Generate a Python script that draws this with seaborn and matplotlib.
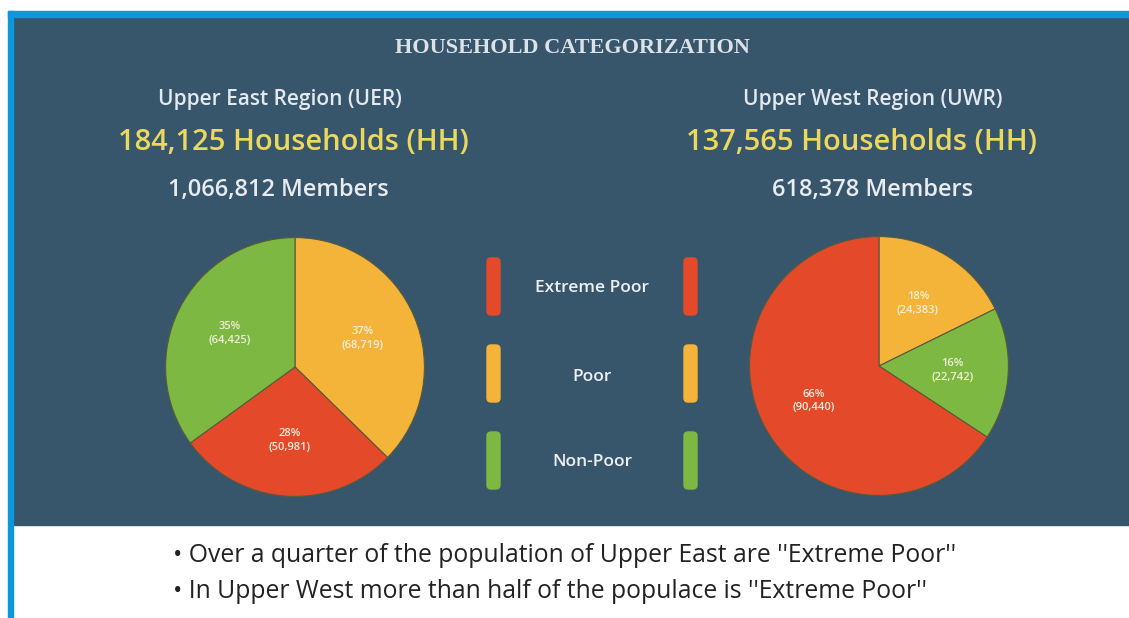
import matplotlib.pyplot as plt
import seaborn as sns
import numpy as np
from matplotlib.patches import Rectangle, FancyBboxPatch

# data
categories = ["Extreme Poor", "Poor", "Non-Poor"]
uer_households = [50981, 68719, 64425]
uer_pct = [28, 37, 35]
uwr_households = [90440, 24383, 22742]
uwr_pct = [66, 18, 16]
uer_order = ["Poor", "Extreme Poor", "Non-Poor"]
uwr_order = ["Poor", "Non-Poor", "Extreme Poor"]
bullets = ['Over a quarter of the population of Upper East are \'\'Extreme Poor\'\'',
           'In Upper West more than half of the populace is \'\'Extreme Poor\'\'']

colors = {"Extreme Poor": "#E44A2A", "Poor": "#F4B43A", "Non-Poor": "#7DB843"}
PANEL = "#37566B"
BLUE = "#0B97DC"
W, H = 1129, 618

sns.set_style("white")
plt.rcParams['font.family'] = ['Open Sans', 'DejaVu Sans']

fig = plt.figure(figsize=(W / 100, H / 100), dpi=100)
bg = fig.add_axes([0, 0, 1, 1])
bg.set_xlim(0, W)
bg.set_ylim(H, 0)
bg.axis("off")

# frame and panel
bg.add_patch(Rectangle((13, 17), W - 13, 508, color=PANEL, zorder=0))
bg.add_patch(Rectangle((8, 11), W - 8, 6, color=BLUE, zorder=1))
bg.add_patch(Rectangle((8, 11), 5, H - 11, color=BLUE, zorder=1))

bg.text(572, 48, "HOUSEHOLD CATEGORIZATION", ha="center", va="center",
        color="#DCE2E8", fontsize=16, family="Liberation Serif", fontweight="bold")

heads = [
    (280, 293, 278, "Upper East Region (UER)", "184,125 Households (HH)", "1,066,812 Members"),
    (873, 861, 873, "Upper West Region (UWR)", "137,565 Households (HH)", "618,378 Members"),
]
for x1, x2, x3, region, hh, members in heads:
    bg.text(x1, 100, region, ha="center", va="center", color="#E4E9EE",
            fontsize=15, fontweight="semibold")
    bg.text(x2, 143, hh, ha="center", va="center", color="#EBD85E",
            fontsize=21, fontweight="semibold")
    bg.text(x3, 190, members, ha="center", va="center", color="#E8ECF0",
            fontsize=17, fontweight="semibold")


def draw_pie(cx, cy, r, values, pcts, order):
    ax = fig.add_axes([(cx - r) / W, 1 - (cy + r) / H, 2 * r / W, 2 * r / H])
    lookup = dict(zip(categories, zip(values, pcts)))
    vals = [lookup[c][0] for c in order]
    labels = [f"{lookup[c][1]}%\n({lookup[c][0]:,})" for c in order]
    wedges, _ = ax.pie(vals, colors=[colors[c] for c in order], startangle=90,
                       counterclock=False, radius=1,
                       wedgeprops=dict(edgecolor="#5a5a3a", linewidth=0.8))
    for w, lab in zip(wedges, labels):
        ang = np.deg2rad((w.theta1 + w.theta2) / 2)
        d = 0.57
        ax.text(d * np.cos(ang), d * np.sin(ang), lab, ha="center", va="center",
                color="#F3EEDC", fontsize=8, fontweight="semibold", linespacing=1.3)
    ax.set_xlim(-1.02, 1.02)
    ax.set_ylim(-1.02, 1.02)
    ax.set_aspect("equal")
    ax.axis("off")


draw_pie(295, 367, 132, uer_households, uer_pct, uer_order)
draw_pie(879, 366, 132, uwr_households, uwr_pct, uwr_order)

# middle legend
for cat, (y0, ytxt) in zip(categories, [(258, 288), (345, 377), (432, 462)]):
    for x0 in (487, 684):
        bg.add_patch(FancyBboxPatch((x0, y0), 13, 57, boxstyle="round,pad=0,rounding_size=4",
                                    color=colors[cat], zorder=2))
    bg.text(592, ytxt, cat, ha="center", va="center", color="#EEF1F4",
            fontsize=12.5, fontweight="semibold")

# bullet notes
for y, line in zip([555, 592], bullets):
    bg.text(173, y, "\u2022 " + line, ha="left", va="center", color="#222222",
            fontsize=17.8)

fig.savefig("out.png", dpi=100)
